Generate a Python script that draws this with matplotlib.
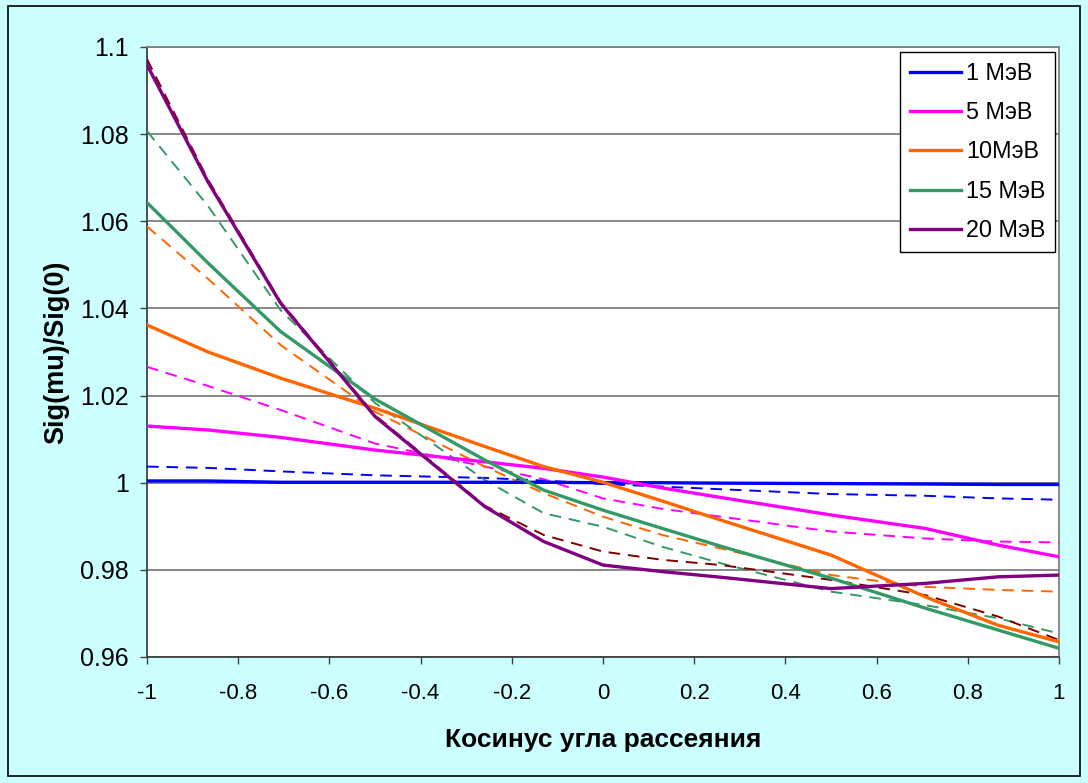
import matplotlib
matplotlib.use("Agg")
import matplotlib.pyplot as plt
from matplotlib.patches import Rectangle
from matplotlib.ticker import FuncFormatter

plt.rcParams['font.family'] = ['Liberation Sans', 'DejaVu Sans']

# scattering-angle cosine grid
mu = [-1.0, -0.866, -0.707, -0.5, -0.259, -0.13, 0.0, 0.13, 0.259, 0.5, 0.707, 0.866, 1.0]

# solid curves
e1_solid = [1.0004, 1.0004, 1.0001, 1.0001, 1.0001, 1.0001, 1.0000, 1.0000, 0.9999, 0.9998, 0.9997, 0.9996, 0.9996]
e5_solid = [1.0130, 1.0121, 1.0104, 1.0075, 1.0048, 1.0033, 1.0013, 0.9988, 0.9966, 0.9926, 0.9895, 0.9857, 0.9830]
e10_solid = [1.0362, 1.0300, 1.0240, 1.0171, 1.0083, 1.0037, 1.0001, 0.9958, 0.9914, 0.9834, 0.9738, 0.9673, 0.9635]
e15_solid = [1.0643, 1.0504, 1.0347, 1.0192, 1.0052, 0.9983, 0.9937, 0.9895, 0.9854, 0.9781, 0.9712, 0.9662, 0.9620]
e20_solid = [1.0959, 1.0690, 1.0412, 1.0152, 0.9945, 0.9865, 0.9811, 0.9796, 0.9783, 0.9757, 0.9769, 0.9784, 0.9788]

# dashed curves
e1_dash = [1.0037, 1.0034, 1.0026, 1.0017, 1.0011, 1.0005, 0.9997, 0.9991, 0.9985, 0.9974, 0.9970, 0.9964, 0.9961]
e5_dash = [1.0266, 1.0222, 1.0167, 1.0090, 1.0037, 1.0008, 0.9964, 0.9940, 0.9922, 0.9888, 0.9872, 0.9865, 0.9863]
e10_dash = [1.0588, 1.0468, 1.0316, 1.0163, 1.0037, 0.9976, 0.9922, 0.9880, 0.9849, 0.9788, 0.9761, 0.9754, 0.9750]
e15_dash = [1.0807, 1.0635, 1.0396, 1.0183, 1.0006, 0.9930, 0.9899, 0.9853, 0.9815, 0.9750, 0.9719, 0.9689, 0.9654]
e20_dash = [1.0972, 1.0695, 1.0415, 1.0155, 0.9947, 0.9880, 0.9842, 0.9823, 0.9811, 0.9777, 0.9742, 0.9693, 0.9639]

labels = ['1 МэВ', '5 МэВ', '10МэВ', '15 МэВ', '20 МэВ']
solid_colors = ['#0000FF', '#FF00FF', '#FF6600', '#339966', '#800080']
dash_colors = ['#0000FF', '#FF00FF', '#FF6600', '#339966', '#800000']

x_ticks = [-1, -0.8, -0.6, -0.4, -0.2, 0, 0.2, 0.4, 0.6, 0.8, 1]
y_ticks = [0.96, 0.98, 1.0, 1.02, 1.04, 1.06, 1.08, 1.1]

W, H = 1088, 783
fig = plt.figure(figsize=(W / 100, H / 100), dpi=100)
fig.patch.set_facecolor('#CCFFFF')
fig.patches.append(Rectangle((8 / W, 1 - 776 / H), (1080 - 8) / W, (776 - 6) / H,
                             transform=fig.transFigure, fill=False,
                             edgecolor='black', linewidth=1.2))

ax = fig.add_axes([147 / W, 1 - 657 / H, (1059 - 147) / W, (657 - 47) / H])
ax.set_facecolor('white')

dash_style = (0, (6, 4))
for ys, c in zip([e1_dash, e5_dash, e10_dash, e15_dash, e20_dash], dash_colors):
    ax.plot(mu, ys, color=c, linewidth=1.4, linestyle=dash_style, zorder=3)

handles = []
for ys, c, lab in zip([e1_solid, e5_solid, e10_solid, e15_solid, e20_solid], solid_colors, labels):
    h, = ax.plot(mu, ys, color=c, linewidth=2.4, label=lab, zorder=4)
    handles.append(h)

ax.set_xlim(-1, 1)
ax.set_ylim(0.96, 1.1)
ax.set_xticks(x_ticks)
ax.set_yticks(y_ticks)
ax.xaxis.set_major_formatter(FuncFormatter(lambda v, p: f'{v:g}'))
ax.yaxis.set_major_formatter(FuncFormatter(lambda v, p: f'{v:g}'))
ax.yaxis.grid(True, color='#808080', linewidth=1.3)
ax.set_axisbelow(True)
ax.tick_params(axis='both', direction='out', length=5, width=1, color='#404040',
               labelcolor='black')
ax.tick_params(axis='x', pad=14, labelsize=16)
ax.tick_params(axis='y', pad=8, labelsize=18)
for side in ['top', 'right']:
    ax.spines[side].set_color('#808080')
    ax.spines[side].set_linewidth(1.3)
for side in ['left', 'bottom']:
    ax.spines[side].set_color('#404040')
    ax.spines[side].set_linewidth(1.3)

ax.set_xlabel('Косинус угла рассеяния', fontsize=19, fontweight='bold', labelpad=17)
ax.set_ylabel('Sig(mu)/Sig(0)', fontsize=19.5, fontweight='bold', labelpad=8)

leg = ax.legend(handles=handles, loc='upper right',
                bbox_to_anchor=((1055 - 147) / 912, (657 - 52) / 610),
                prop={'size': 16.8}, handlelength=2.2, handletextpad=0.2,
                labelspacing=0.7, borderpad=0.42, fancybox=False,
                framealpha=1, edgecolor='black', borderaxespad=0)
leg.get_frame().set_linewidth(1.0)

fig.savefig('out.png', dpi=100, facecolor=fig.get_facecolor())
